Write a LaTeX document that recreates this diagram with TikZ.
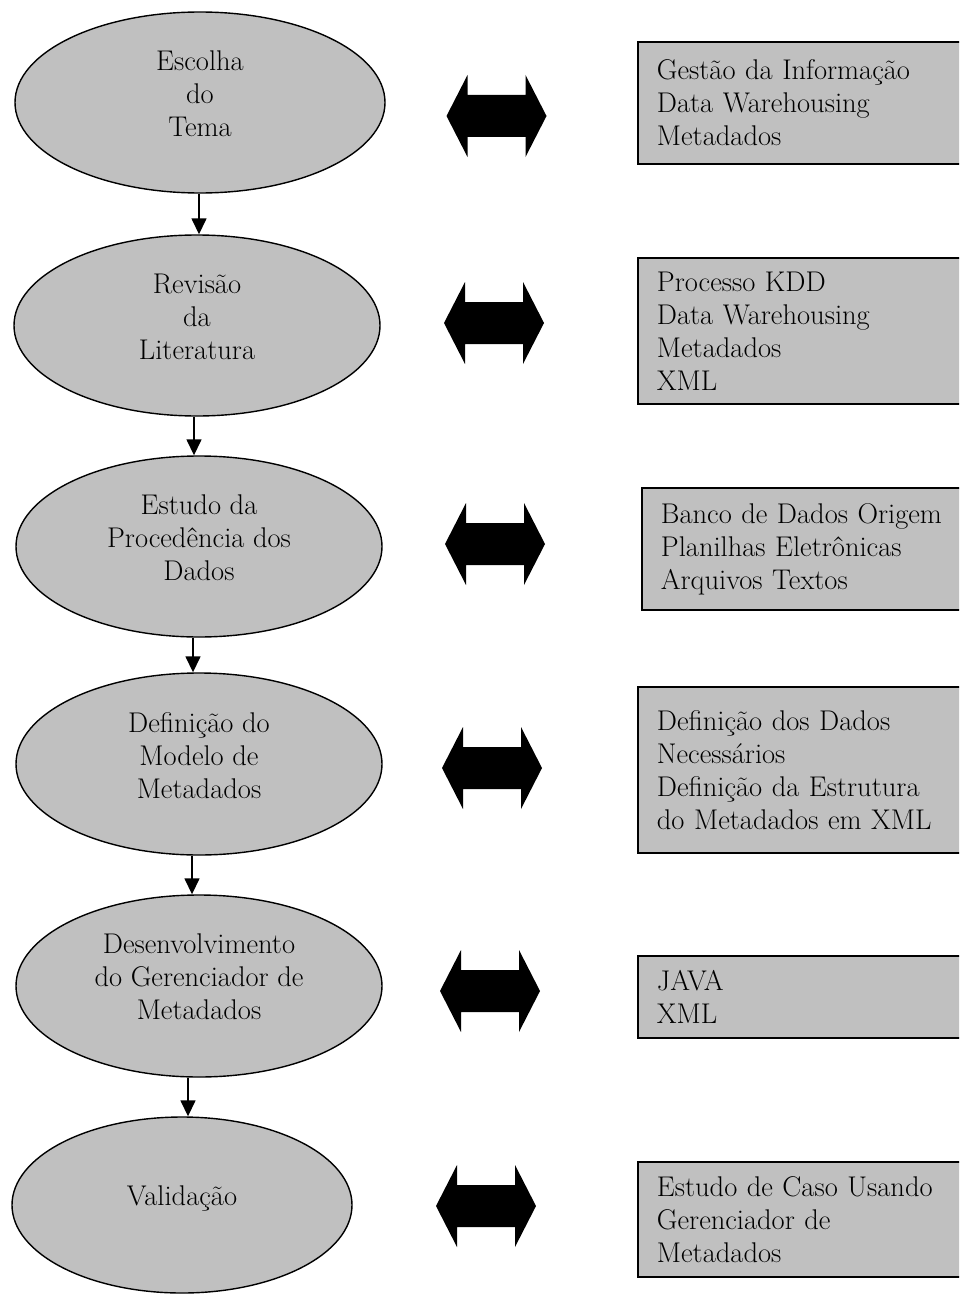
\documentclass[tikz,border=0pt]{standalone}
\usepackage{fontspec}
\usetikzlibrary{shapes.geometric,arrows.meta}

\definecolor{panel}{RGB}{192,192,192}
\newcommand\bodyfont{\fontsize{28.5}{33}\selectfont}

\tikzset{
  stage/.style={ellipse, draw, line width=1.4pt, fill=panel, inner sep=0pt,
    align=center, font=\bodyfont, text depth=18pt},
  topic/.style={rectangle, draw, line width=1.8pt, fill=panel, anchor=west,
    text width=420pt, inner xsep=19pt, align=left, font=\bodyfont},
  flow/.style={line width=1.5pt, -{Triangle[length=16pt,width=15pt]}},
  dblarrow/.pic={
    \fill (-50,0) -- (-29,-41) -- (-29,-21) -- (29,-21) -- (29,-41)
      -- (50,0) -- (29,41) -- (29,21) -- (-29,21) -- (-29,41) -- cycle;
  }
}

\begin{document}
\begin{tikzpicture}[x=1pt,y=-1pt]
  \clip (0,0) rectangle (959,1295);

  % stages of the work
  \node[stage, minimum width=370pt, minimum height=181pt] (e1) at (200,102.5)
    {Escolha\\do\\Tema};
  \node[stage, minimum width=366pt, minimum height=181pt] (e2) at (197,325.5)
    {Revisão\\da\\Literatura};
  \node[stage, minimum width=366pt, minimum height=181pt] (e3) at (199,546.5)
    {Estudo da\\Procedência dos\\Dados};
  \node[stage, minimum width=366pt, minimum height=182pt] (e4) at (199,764)
    {Definição do\\Modelo de\\Metadados};
  \node[stage, minimum width=366pt, minimum height=182pt] (e5) at (199,986)
    {Desenvolvimento\\do Gerenciador de\\Metadados};
  \node[stage, minimum width=340pt, minimum height=176pt] (e6) at (182,1205)
    {Validação};

  % sequence between stages
  \draw[flow] ([xshift=-1pt]e1.south) -- ([xshift=2pt]e2.north);
  \draw[flow] ([xshift=-3pt]e2.south) -- ([xshift=-5pt]e3.north);
  \draw[flow] ([xshift=-6pt]e3.south) -- ([xshift=-6pt]e4.north);
  \draw[flow] ([xshift=-7pt]e4.south) -- ([xshift=-7pt]e5.north);
  \draw[flow] ([xshift=-11pt]e5.south) -- ([xshift=6pt]e6.north);

  % topics of each stage
  \node[topic, minimum height=122pt] (t1) at (637,103)
    {Gestão da Informação\\Data Warehousing\\Metadados};
  \node[topic, minimum height=146pt] (t2) at (637,331)
    {Processo KDD\\Data Warehousing\\Metadados\\XML};
  \node[topic, minimum height=122pt] (t3) at (641,549)
    {Banco de Dados Origem\\Planilhas Eletrônicas\\Arquivos Textos};
  \node[topic, minimum height=166pt] (t4) at (637,770)
    {Definição dos Dados\\Necessários\\Definição da Estrutura\\do Metadados em XML};
  \node[topic, minimum height=82pt] (t5) at (637,997)
    {JAVA\\XML};
  \node[topic, minimum height=115pt] (t6) at (637,1219.5)
    {Estudo de Caso Usando\\Gerenciador de\\Metadados};

  % two-way links between stages and topics
  \coordinate (d1) at (496.5,116);
  \coordinate (d2) at (494,323);
  \coordinate (d3) at (495,544);
  \coordinate (d4) at (492,768);
  \coordinate (d5) at (490,991);
  \coordinate (d6) at (486,1206);
  \foreach \d in {d1,d2,d3,d4,d5,d6} \pic at (\d) {dblarrow};
\end{tikzpicture}
\end{document}
